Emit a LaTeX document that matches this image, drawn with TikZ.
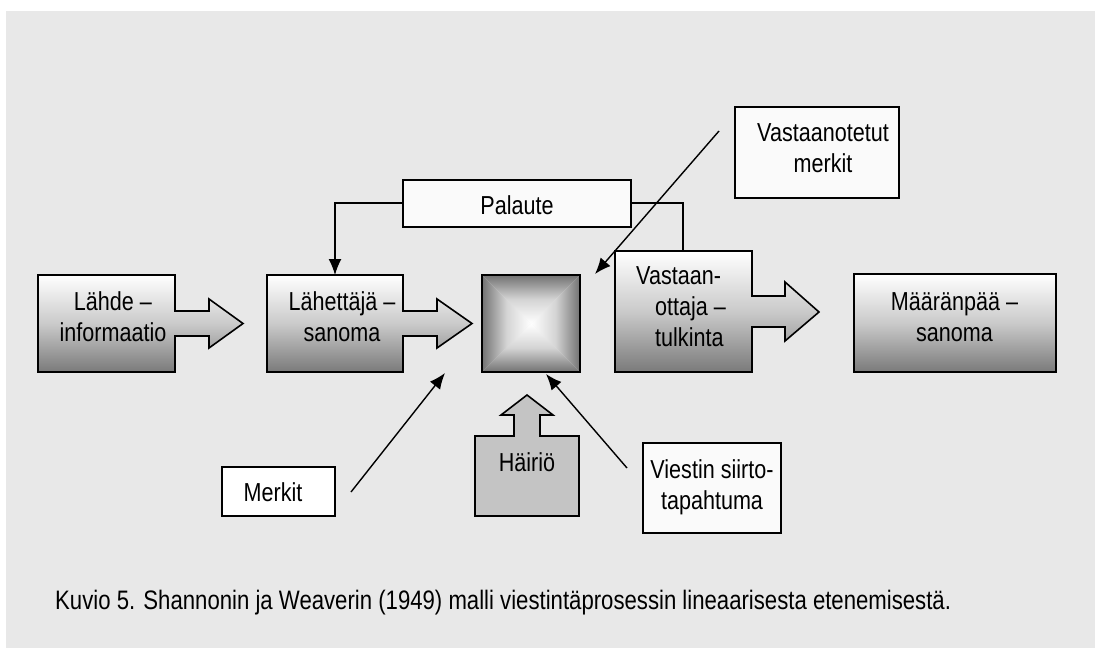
\documentclass[tikz,border=0pt]{standalone}
\usepackage{fontspec}
\setmainfont[FakeStretch=0.83]{Liberation Sans}
\usetikzlibrary{arrows.meta}
\definecolor{bg}{HTML}{E8E8E8}
\definecolor{dk}{HTML}{7A7A7A}
\definecolor{md}{HTML}{CACACA}
\definecolor{sq}{HTML}{727272}
\definecolor{sqm}{HTML}{D4D4D4}
\definecolor{hz}{HTML}{C4C4C4}
\definecolor{wb}{HTML}{FAFAFA}
\tikzset{
  lbl/.style={font=\fontsize{26}{31}\selectfont, align=center, inner sep=0pt},
  gradbox/.style={draw=black, line width=1.6pt, line join=miter, top color=white, bottom color=dk, middle color=md},
  notebox/.style={draw=black, line width=1.6pt, fill=wb},
  conn/.style={line width=1.4pt, -{Latex[length=16pt,width=13pt]}},
  plain/.style={line width=1.4pt}
}
\begin{document}
\begin{tikzpicture}[x=1pt,y=-1pt]
\useasboundingbox (0,0) rectangle (1095,648);
\fill[white] (0,0) rectangle (1095,648);
\fill[bg] (6,11) rectangle (1095,648);

% Lahde - informaatio
\path[gradbox] (38,275) -- (175,275) -- (175,311) -- (209,311) -- (209,299) -- (243,323.5) -- (209,348) -- (209,336) -- (175,336) -- (175,372) -- (38,372) -- cycle;
\node[lbl] (lahde) at (113,317) {Lähde –\\informaatio};

% Lahettaja - sanoma
\path[gradbox] (267,275) -- (403,275) -- (403,311) -- (437,311) -- (437,299) -- (472,323.5) -- (437,348) -- (437,336) -- (403,336) -- (403,372) -- (267,372) -- cycle;
\node[lbl] (lahettaja) at (342,317) {Lähettäjä –\\sanoma};
\coordinate (lahtop) at (335,275);

% channel square
\coordinate (c) at (531,323.5);
\begin{scope}
\clip (482,275) -- (580,275) -- (c) -- cycle;
\shade[top color=sq, bottom color=white, middle color=sqm] (482,275) rectangle (580,323.5);
\end{scope}
\begin{scope}
\clip (482,372) -- (580,372) -- (c) -- cycle;
\shade[top color=white, bottom color=sq, middle color=sqm] (482,323.5) rectangle (580,372);
\end{scope}
\begin{scope}
\clip (482,275) -- (482,372) -- (c) -- cycle;
\shade[left color=sq, right color=white, middle color=sqm] (482,275) rectangle (531,372);
\end{scope}
\begin{scope}
\clip (580,275) -- (580,372) -- (c) -- cycle;
\shade[left color=white, right color=sq, middle color=sqm] (531,275) rectangle (580,372);
\end{scope}
\node[draw=black, line width=1.6pt, minimum width=98pt, minimum height=97pt, inner sep=0pt] (kanava) at (c) {};

% Vastaanottaja - tulkinta
\path[gradbox] (615,251) -- (752,251) -- (752,296) -- (785,296) -- (785,282) -- (819,312) -- (785,341) -- (785,327) -- (752,327) -- (752,372) -- (615,372) -- cycle;
\node[lbl, align=left, anchor=west] (vastaanottaja) at (636,306.7) {Vastaan-\\\hspace*{19pt}ottaja –\\\hspace*{19pt}tulkinta};
\coordinate (vasttop) at (683,251);

% Maaranpaa - sanoma
\path[gradbox] (854,274) rectangle (1056,372);
\node[lbl] (maaranpaa) at (954.5,316.7) {Määränpää –\\sanoma};

% Hairio
\path[draw=black, line width=1.6pt, fill=hz] (475,516) -- (475,436) -- (514,436) -- (514,415) -- (501,415) -- (527,395) -- (553,415) -- (540,415) -- (540,436) -- (579,436) -- (579,516) -- cycle;
\node[lbl, anchor=base] (hairio) at (527,471.7) {Häiriö};

% Palaute
\path[notebox] (403,180) rectangle (631,227);
\node[lbl, anchor=base] (palaute) at (517,214.3) {Palaute};
\coordinate (palW) at (403,203);
\coordinate (palE) at (631,203);

% Vastaanotetut merkit
\path[notebox] (735,107) rectangle (899,198);
\node[lbl] (vmerkit) at (823,148) {Vastaanotetut\\merkit};

% Viestin siirtotapahtuma
\path[notebox] (643,443) rectangle (781,533);
\node[lbl] (viestin) at (712,487) {Viestin siirto-\\tapahtuma};

% Merkit
\path[notebox, fill=white] (222,467) rectangle (335,516);
\node[lbl, anchor=base] (merkit) at (273,501.7) {Merkit};

% connectors
\draw[plain] (vasttop) |- (palE);
\draw[conn] (palW) -| (lahtop);

\coordinate (m1) at (351,492);
\coordinate (m2) at (445,373);
\draw[conn] (m1) -- (m2);

\coordinate (v1) at (719,131);
\coordinate (v2) at (595,274);
\draw[conn] (v1) -- (v2);

\coordinate (s1) at (627,468);
\coordinate (s2) at (546,374);
\draw[conn] (s1) -- (s2);

% caption
\node[font=\fontsize{26.7}{31}\selectfont, anchor=base west, inner sep=0pt] (caption) at (55,609) {Kuvio 5. Shannonin ja Weaverin (1949) malli viestintäprosessin lineaarisesta etenemisestä.};
\end{tikzpicture}
\end{document}
